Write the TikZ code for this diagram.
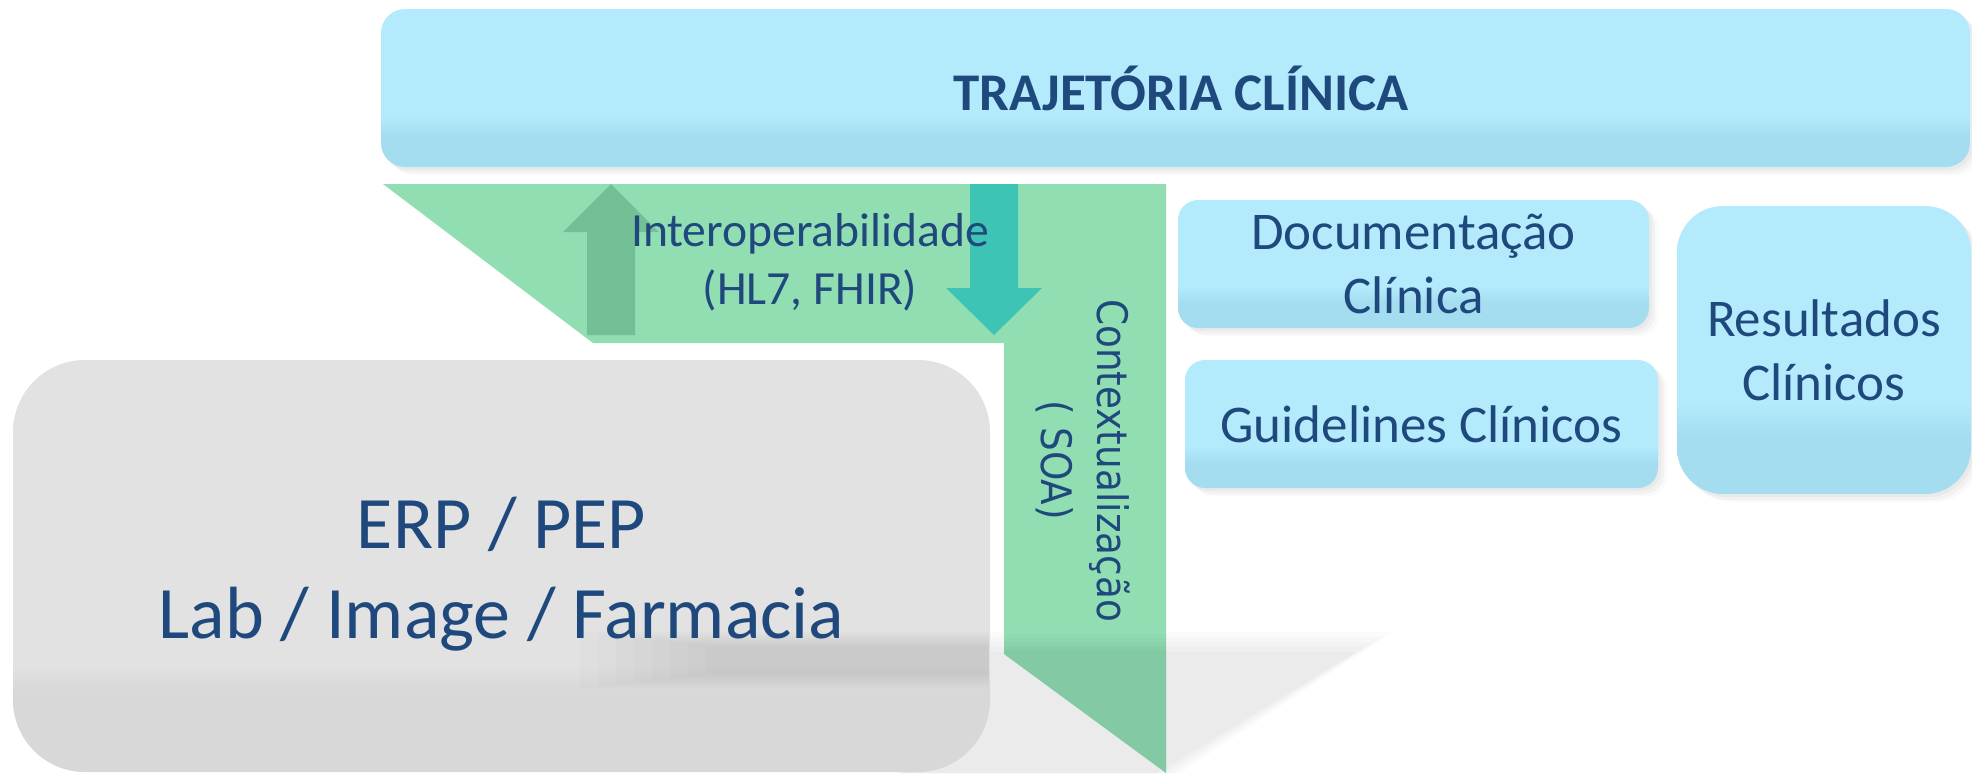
\documentclass[tikz,border=0pt]{standalone}
\usepackage{fontspec}
\setmainfont{Carlito}
\newfontfamily\ctxfont[FakeStretch=0.89]{DejaVu Sans}
\usetikzlibrary{shadows}
\definecolor{txt}{RGB}{31,73,125}
\definecolor{bluelt}{RGB}{179,235,253}
\definecolor{bluedk}{RGB}{165,221,240}
\definecolor{graylt}{RGB}{226,226,226}
\definecolor{graydk}{RGB}{216,216,216}
\definecolor{grn}{RGB}{146,222,179}
\definecolor{grnarrow}{RGB}{115,191,150}
\definecolor{tealarrow}{RGB}{62,196,180}
\pgfdeclareverticalshading{blueband}{100bp}{color(0bp)=(bluedk); color(35bp)=(bluedk); color(41bp)=(bluelt); color(100bp)=(bluelt)}
\pgfdeclareverticalshading{grayband}{100bp}{color(0bp)=(graydk); color(35bp)=(graydk); color(38bp)=(graylt); color(100bp)=(graylt)}
\tikzset{
  boxbase/.style={rectangle, inner sep=0pt, outer sep=0pt, align=center, text=txt},
  bluebox/.style={boxbase, shade, shading=blueband,
    drop shadow={fill=black, opacity=0.03, shadow xshift=1.5pt, shadow yshift=-1.5pt},
    drop shadow={fill=black, opacity=0.03, shadow xshift=3pt, shadow yshift=-3pt},
    drop shadow={fill=black, opacity=0.02, shadow xshift=4.5pt, shadow yshift=-4pt},
    font=\fontsize{26.5pt}{32pt}\selectfont},
  graybox/.style={boxbase, shade, shading=grayband},
  lbl/.style={inner sep=0pt, outer sep=0pt, align=center, text=txt},
  softshadow/.style={fill=black, opacity=0.017},
  finershadow/.style={fill=black, opacity=0.011},
}
\begin{document}
\begin{tikzpicture}[x=0.5pt,y=-0.5pt]
\useasboundingbox (0,0) rectangle (1972,773);
% ground shadow behind the boxes (soft edges by stacking)
\foreach \d in {0,...,4}{
  \fill[softshadow] (900,632+5*\d) -- (1392-9*\d,632+5*\d) -- (1180-6*\d,773) -- (900,773) -- cycle;
}
% ERP box
\node[graybox, minimum width=488.5pt, minimum height=206pt, rounded corners=36pt] (erp) at (501.5,566) {};
\foreach \d in {0,...,7}{
  \fill[finershadow] (580+18*\d,632+2*\d) rectangle (989,688-2*\d);
}
\node[lbl, font=\fontsize{37pt}{45pt}\selectfont] (erptext) at (501.5,574)
  {ERP / PEP\\Lab / Image / Farmacia};
% green band
\fill[grn] (383,184) -- (1166,184) -- (1166,773) -- (1004,654) -- (1004,343) -- (593,343) -- cycle;
\begin{scope}
  \clip (383,184) -- (1166,184) -- (1166,773) -- (1004,654) -- (1004,343) -- (593,343) -- cycle;
  \foreach \d in {0,...,4}{
    \fill[softshadow] (990,634+4*\d) -- (1392,634+4*\d) -- (1180,773) -- (990,773) -- cycle;
  }
\end{scope}
% arrows
\fill[grnarrow] (587,335) -- (587,232) -- (563,232) -- (611,184) -- (659,232) -- (635,232) -- (635,335) -- cycle;
\fill[tealarrow] (970,184) -- (1018,184) -- (1018,288) -- (1042,288) -- (994,335) -- (946,288) -- (970,288) -- cycle;
% labels on the green band
\node[lbl, font=\fontsize{23.8pt}{29pt}\selectfont] (interop) at (810,262) {Interoperabilidade\\(HL7, FHIR)};
\node[lbl, rotate=-90, font=\ctxfont\fontsize{21pt}{28pt}\selectfont] (ctx) at (1083,460.5) {Contextualização\\( SOA)};
% blue boxes
\node[bluebox, minimum width=794.5pt, minimum height=79pt, rounded corners=12pt] (traj) at (1175.5,88) {};
\node[lbl, font=\bfseries\fontsize{26.5pt}{32pt}\selectfont] (trajtext) at (1181,88) {TRAJETÓRIA CLÍNICA};
\node[bluebox, minimum width=235.5pt, minimum height=64pt, rounded corners=10pt] (doc) at (1413.5,264)
  {Documentação\\Clínica};
\node[bluebox, minimum width=236.5pt, minimum height=64pt, rounded corners=10pt] (guide) at (1421.5,424)
  {Guidelines Clínicos};
\node[bluebox, minimum width=147pt, minimum height=144pt, rounded corners=23pt] (res) at (1824,350)
  {Resultados\\Clínicos};
\end{tikzpicture}
\end{document}
